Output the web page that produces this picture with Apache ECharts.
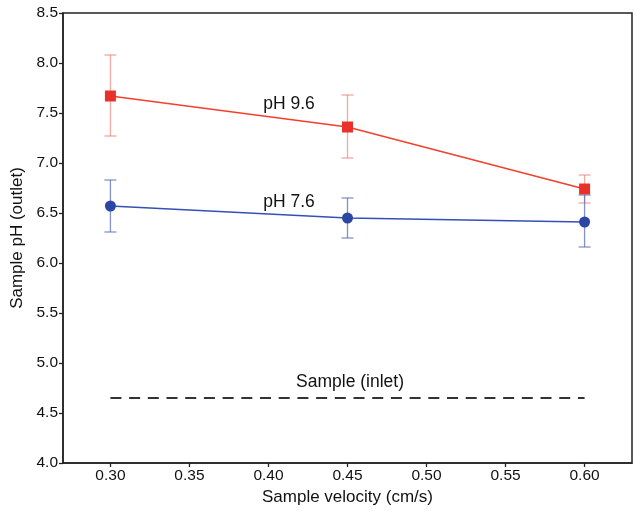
<!DOCTYPE html>
<html><head><meta charset="utf-8">
<script src="https://cdn.jsdelivr.net/npm/echarts@6/dist/echarts.min.js"></script>
<style>html,body{margin:0;padding:0;background:#fff}#c{width:641px;height:515px}</style>
</head><body><div id="c"></div>
<script>
var velocity = [0.30, 0.45, 0.60];
var ph96Mean = [7.67, 7.36, 6.74];
var ph96Low  = [7.27, 7.05, 6.60];
var ph96High = [8.08, 7.68, 6.88];
var ph76Mean = [6.57, 6.45, 6.41];
var ph76Low  = [6.31, 6.25, 6.16];
var ph76High = [6.83, 6.65, 6.68];
var inletPH = 4.65;
var xTicks = [0.30, 0.35, 0.40, 0.45, 0.50, 0.55, 0.60];
var seriesNames = ['pH 9.6', 'pH 7.6'];
var inletLabel = 'Sample (inlet)';

function pts(m){ return velocity.map(function(v,i){return [v,m[i]];}); }
function errs(lo,hi){ return velocity.map(function(v,i){return [v,lo[i],hi[i]];}); }
function errSeries(lo,hi,color){
  return {type:'custom', data:errs(lo,hi), z:1,
    renderItem:function(params,api){
      var x=api.value(0), a=api.coord([x,api.value(1)]), b=api.coord([x,api.value(2)]);
      var w=6, st={stroke:color,lineWidth:1.3};
      return {type:'group',children:[
        {type:'line',shape:{x1:a[0],y1:a[1],x2:b[0],y2:b[1]},style:st},
        {type:'line',shape:{x1:a[0]-w,y1:a[1],x2:a[0]+w,y2:a[1]},style:st},
        {type:'line',shape:{x1:b[0]-w,y1:b[1],x2:b[0]+w,y2:b[1]},style:st}
      ]};
    }};
}
var font='"Liberation Sans", Arial, sans-serif';
var chart=echarts.init(document.getElementById('c'));
chart.setOption({
  animation:false,
  grid:{left:63,right:9,top:13,bottom:52,outerBoundsMode:'none',containLabel:false,show:true,borderColor:'#222',borderWidth:1.5,backgroundColor:'transparent'},
  xAxis:{type:'value',min:0.27,max:0.63,
    axisLine:{show:true,lineStyle:{color:'#222',width:1.5}},
    axisTick:{show:true,length:4,lineStyle:{color:'#222',width:1.3},customValues:xTicks},
    axisLabel:{color:'#111',fontSize:15.5,fontFamily:font,margin:5,formatter:function(v){return v.toFixed(2);},customValues:xTicks},
    splitLine:{show:false},
    name:'Sample velocity (cm/s)',nameLocation:'middle',nameGap:26,
    nameTextStyle:{color:'#111',fontSize:17,fontFamily:font}},
  yAxis:{type:'value',min:4.0,max:8.5,interval:0.5,
    axisLine:{show:true,lineStyle:{color:'#222',width:1.5}},
    axisTick:{show:true,length:4,lineStyle:{color:'#222',width:1.3}},
    axisLabel:{color:'#111',fontSize:15.5,fontFamily:font,margin:5,formatter:function(v){return v.toFixed(1);}},
    splitLine:{show:false},
    name:'Sample pH (outlet)',nameLocation:'middle',nameGap:36,
    nameTextStyle:{color:'#111',fontSize:17,fontFamily:font}},
  series:[
    errSeries(ph96Low,ph96High,'rgba(238,110,100,0.6)'),
    errSeries(ph76Low,ph76High,'rgba(90,110,185,0.75)'),
    {type:'line',name:seriesNames[1],data:pts(ph76Mean),symbol:'circle',symbolSize:11,z:3,
      lineStyle:{color:'#3550b5',width:1.5},itemStyle:{color:'#2b47a3'}},
    {type:'line',name:seriesNames[0],data:pts(ph96Mean),symbol:'rect',symbolSize:11,z:4,
      lineStyle:{color:'#f2402c',width:1.5},itemStyle:{color:'#e8312a'}},
    {type:'line',data:[[velocity[0],inletPH],[velocity[velocity.length-1],inletPH]],symbol:'none',z:2,
      lineStyle:{color:'#333',width:1.8,type:[11,7.7]}}
  ],
  graphic:[
    {type:'text',x:289,y:104,style:{text:seriesNames[0],font:'17.5px '+font,fill:'#111',align:'center',verticalAlign:'middle'}},
    {type:'text',x:289,y:202,style:{text:seriesNames[1],font:'17.5px '+font,fill:'#111',align:'center',verticalAlign:'middle'}},
    {type:'text',x:350,y:382,style:{text:inletLabel,font:'17.5px '+font,fill:'#111',align:'center',verticalAlign:'middle'}}
  ]
});
</script></body></html>
